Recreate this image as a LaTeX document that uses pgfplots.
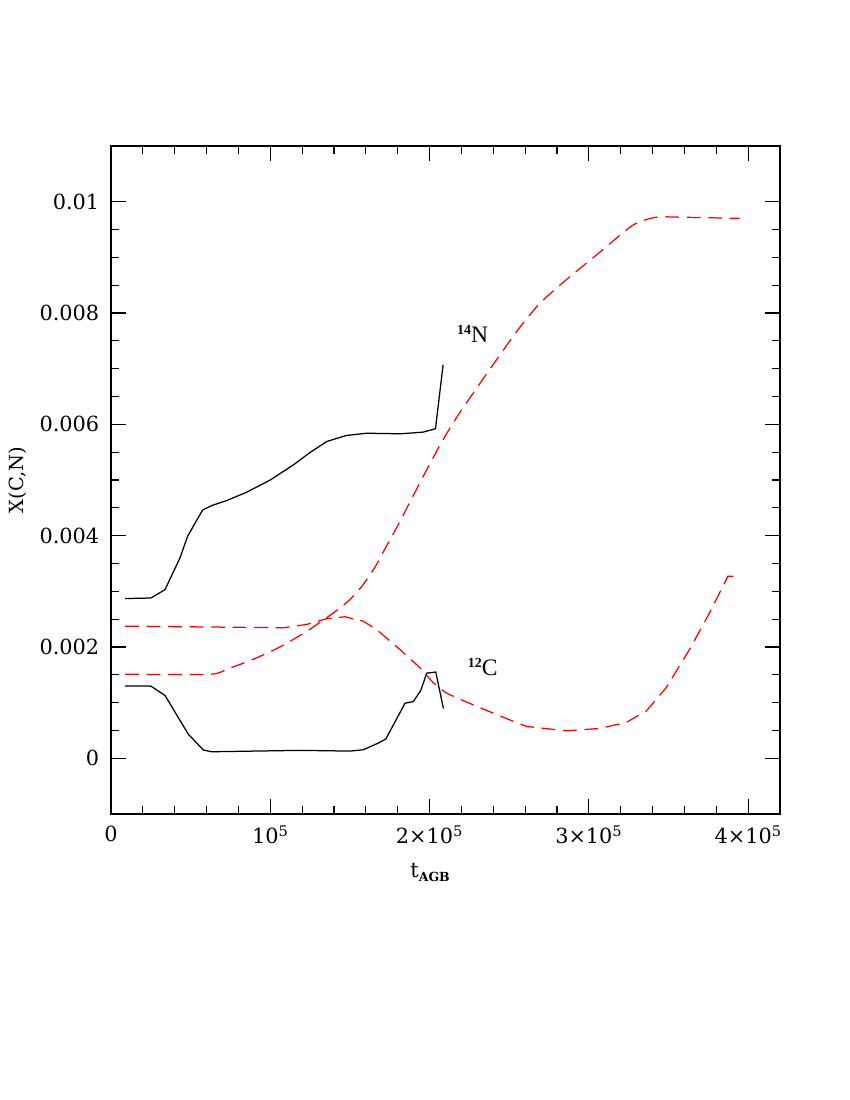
\documentclass[border=0pt]{standalone}
\usepackage{fontspec}
\setmainfont{DejaVu Serif}
\newfontfamily\lserif{Liberation Serif}
\usepackage{pgfplots}
\pgfplotsset{compat=1.18}
\definecolor{myred}{RGB}{255,0,0}
\begin{document}
\begin{tikzpicture}[x=1pt,y=1pt]
\path[use as bounding box] (0,0) rectangle (612,792);
\begin{axis}[
  at={(79.92pt,205.92pt)}, anchor=south west,
  scale only axis, width=481.68pt, height=480.96pt,
  xmin=0, xmax=4.2e5, ymin=-0.001, ymax=0.011,
  clip=false,
  scaled ticks=false,
  xtick={0,1e5,2e5,3e5,4e5},
  xticklabels={0,10\textsuperscript{5},2×10\textsuperscript{5},3×10\textsuperscript{5},4×10\textsuperscript{5}},
  minor x tick num=4,
  ytick={0,0.002,0.004,0.006,0.008,0.01},
  yticklabels={0,0.002,0.004,0.006,0.008,0.01},
  minor y tick num=3,
  tick align=inside,
  major tick length=11pt, minor tick length=5.5pt,
  tick style={black, line width=0.8pt},
  axis line style={line width=1pt},
  /pgf/number format/assume math mode=true,
  tick label style={font=\fontsize{15}{15}\selectfont},
  xticklabel style={yshift=-5pt},
  yticklabel style={xshift=-5pt},
]
\addplot[black, line width=0.9pt] coordinates {
(8.8e3,0.00130) (2.49e4,0.00130) (3.39e4,0.00113) (4.85e4,0.000435) (5.8e4,0.000149)
(6.32e4,0.000118) (1.187e5,0.000143) (1.501e5,0.00013) (1.584e5,0.000154) (1.678e5,0.000274)
(1.725e5,0.000346) (1.846e5,0.00099) (1.898e5,0.00102) (1.945e5,0.00122) (1.982e5,0.00153)
(2.039e5,0.00155) (2.087e5,0.000895)
};
\addplot[black, line width=0.9pt] coordinates {
(8.8e3,0.00287) (2.51e4,0.00288) (3.39e4,0.00303) (4.33e4,0.00360) (4.81e4,0.00399)
(5.75e4,0.00446) (6.32e4,0.00454) (7.26e4,0.00463) (8.51e4,0.00478) (1.0e5,0.00500)
(1.144e5,0.00527) (1.248e5,0.00549) (1.353e5,0.00569) (1.478e5,0.00580) (1.604e5,0.00584)
(1.819e5,0.00583) (1.959e5,0.00586) (2.037e5,0.00592) (2.085e5,0.00707)
};
\addplot[myred, line width=0.9pt, dash pattern=on 10pt off 5.5pt, smooth, tension=0.4] coordinates {
(8.8e3,0.00151) (6.21e4,0.00151) (7.26e4,0.00160) (8.93e4,0.00178) (1.06e5,0.00200)
(1.228e5,0.00228) (1.395e5,0.00261) (1.499e5,0.00285) (1.583e5,0.00312) (1.667e5,0.00348)
(1.708e5,0.00370) (1.813e5,0.00425) (1.939e5,0.00495) (2.064e5,0.00562) (2.169e5,0.00612)
(2.315e5,0.00673) (2.545e5,0.00766) (2.691e5,0.00817) (2.859e5,0.00860) (3.068e5,0.00909)
(3.277e5,0.00958) (3.423e5,0.00972) (3.59e5,0.00972) (3.946e5,0.00970)
};
\addplot[myred, line width=0.9pt, dash pattern=on 10pt off 5.5pt] coordinates {
(8.8e3,0.002375) (1.081e5,0.002345) (1.228e5,0.002405) (1.353e5,0.002507) (1.468e5,0.002543)
(1.583e5,0.002464) (1.667e5,0.002315) (1.813e5,0.001957) (1.939e5,0.001629) (2.022e5,0.001361)
(2.106e5,0.001170) (2.231e5,0.001013) (2.44e5,0.000763) (2.608e5,0.000573) (2.859e5,0.000494)
(3.068e5,0.000537) (3.235e5,0.000645) (3.361e5,0.000852) (3.486e5,0.001271) (3.632e5,0.001957)
(3.758e5,0.002614) (3.873e5,0.00327) (3.94e5,0.00327)
};
\node[font=\lserif\fontsize{17}{17}\selectfont] at (axis cs:2.27e5,0.00763) {\raisebox{0.35em}{\fontsize{10}{10}\selectfont\bfseries 14}N};
\node[font=\lserif\fontsize{17}{17}\selectfont] at (axis cs:2.334e5,0.001635) {\raisebox{0.35em}{\fontsize{10}{10}\selectfont\bfseries 12}C};
\node[rotate=90, font=\fontsize{14}{14}\selectfont] at (axis description cs:-0.139,0.5) {X(C,N)};
\node[font=\fontsize{15}{15}\selectfont] at (axis description cs:0.477,-0.087) {t\raisebox{-3pt}{\fontsize{9}{9}\selectfont\bfseries AGB}};
\end{axis}
\end{tikzpicture}
\end{document}
